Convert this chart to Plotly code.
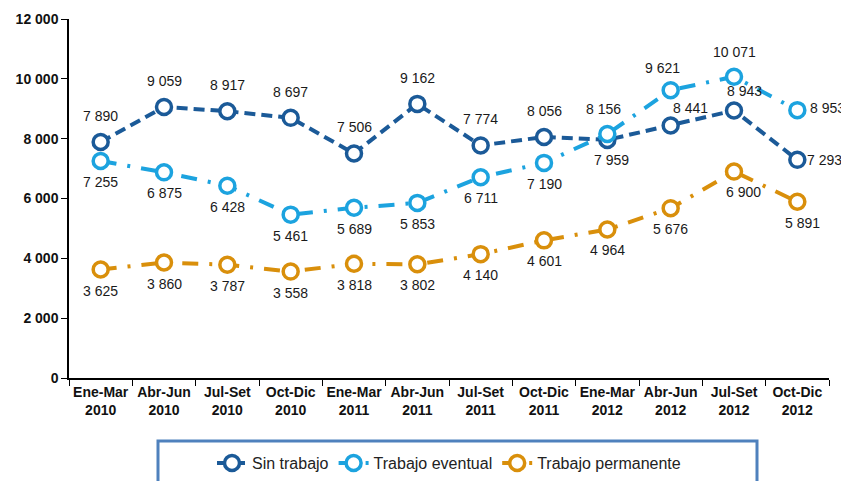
import plotly.graph_objects as go

categories = ["Ene-Mar<br>2010", "Abr-Jun<br>2010", "Jul-Set<br>2010", "Oct-Dic<br>2010",
              "Ene-Mar<br>2011", "Abr-Jun<br>2011", "Jul-Set<br>2011", "Oct-Dic<br>2011",
              "Ene-Mar<br>2012", "Abr-Jun<br>2012", "Jul-Set<br>2012", "Oct-Dic<br>2012"]
sin_trabajo = [7890, 9059, 8917, 8697, 7506, 9162, 7774, 8056, 7959, 8441, 8943, 7293]
trabajo_eventual = [7255, 6875, 6428, 5461, 5689, 5853, 6711, 7190, 8156, 9621, 10071, 8953]
trabajo_permanente = [3625, 3860, 3787, 3558, 3818, 3802, 4140, 4601, 4964, 5676, 6900, 5891]

# label placement per point: (xshift, yshift)
pos_sin = [(0, 26)] * 8 + [(4, -20), (20, 17), (10, 19), (27, 0)]
pos_eve = [(0, -21)] * 8 + [(-4, 25), (-8, 22), (0, 25), (30, 2)]
pos_per = [(0, -21)] * 10 + [(9, -20), (5, -21)]

series = [
    ("Sin trabajo", sin_trabajo, "#1B5A98", "11px,6px", pos_sin),
    ("Trabajo eventual", trabajo_eventual, "#1CA3DF", "16px,11px,3px,11px", pos_eve),
    ("Trabajo permanente", trabajo_permanente, "#D98F0B", "16px,11px,3px,11px", pos_per),
]

FONT = "Liberation Sans, Arial, sans-serif"

def fmt(v):
    return f"{v:,}".replace(",", " ")

fig = go.Figure()
annotations = []
for name, vals, color, dash, pos in series:
    fig.add_trace(go.Scatter(
        x=categories, y=vals, name=name, mode="lines+markers",
        line=dict(color=color, width=4, dash=dash),
        marker=dict(symbol="circle", size=15, color="white",
                    line=dict(color=color, width=3.5)),
    ))
    for c, v, (xs, ys) in zip(categories, vals, pos):
        annotations.append(dict(x=c, y=v, text=fmt(v), showarrow=False,
                                xshift=xs, yshift=ys,
                                font=dict(family=FONT, size=14, color="#1a1a1a")))

# the page body adds an 8px offset, so the figure is sized to compensate
fig.update_layout(
    width=841, height=473,
    margin=dict(l=61, r=20, t=11, b=103, autoexpand=False),
    paper_bgcolor="white", plot_bgcolor="white",
    separators=". ",
    font=dict(family=FONT, size=14, color="#111"),
    showlegend=True,
    legend=dict(orientation="h", x=0.5, xanchor="center", y=-0.237, yanchor="middle",
                font=dict(family=FONT, size=16, color="#222"),
                bgcolor="rgba(0,0,0,0)", tracegroupgap=0),
    annotations=annotations,
    shapes=[dict(type="rect", xref="paper", yref="paper",
                 x0=(158 - 69) / 760, x1=(757 - 69) / 760,
                 y0=-0.4, y1=(378 - 441) / 359,
                 line=dict(color="#4F81BD", width=3), fillcolor="rgba(0,0,0,0)")],
)
fig.update_xaxes(type="category", tickson="boundaries", showline=True, linecolor="black",
                 linewidth=1.5, ticks="outside", ticklen=6, tickcolor="black",
                 showgrid=False, range=[-0.5, 11.5], tickangle=0, automargin=False,
                 tickfont=dict(family=FONT, size=14, color="#111", weight="bold"))
fig.update_yaxes(range=[0, 12000], tickvals=[0, 2000, 4000, 6000, 8000, 10000, 12000],
                 tickformat=",d", showline=True, linecolor="black", linewidth=1.5,
                 ticks="outside", ticklen=6, tickcolor="black", showgrid=False,
                 zeroline=False, automargin=False,
                 tickfont=dict(family=FONT, size=14, color="#111", weight="bold"))

fig.write_html("out.html")
